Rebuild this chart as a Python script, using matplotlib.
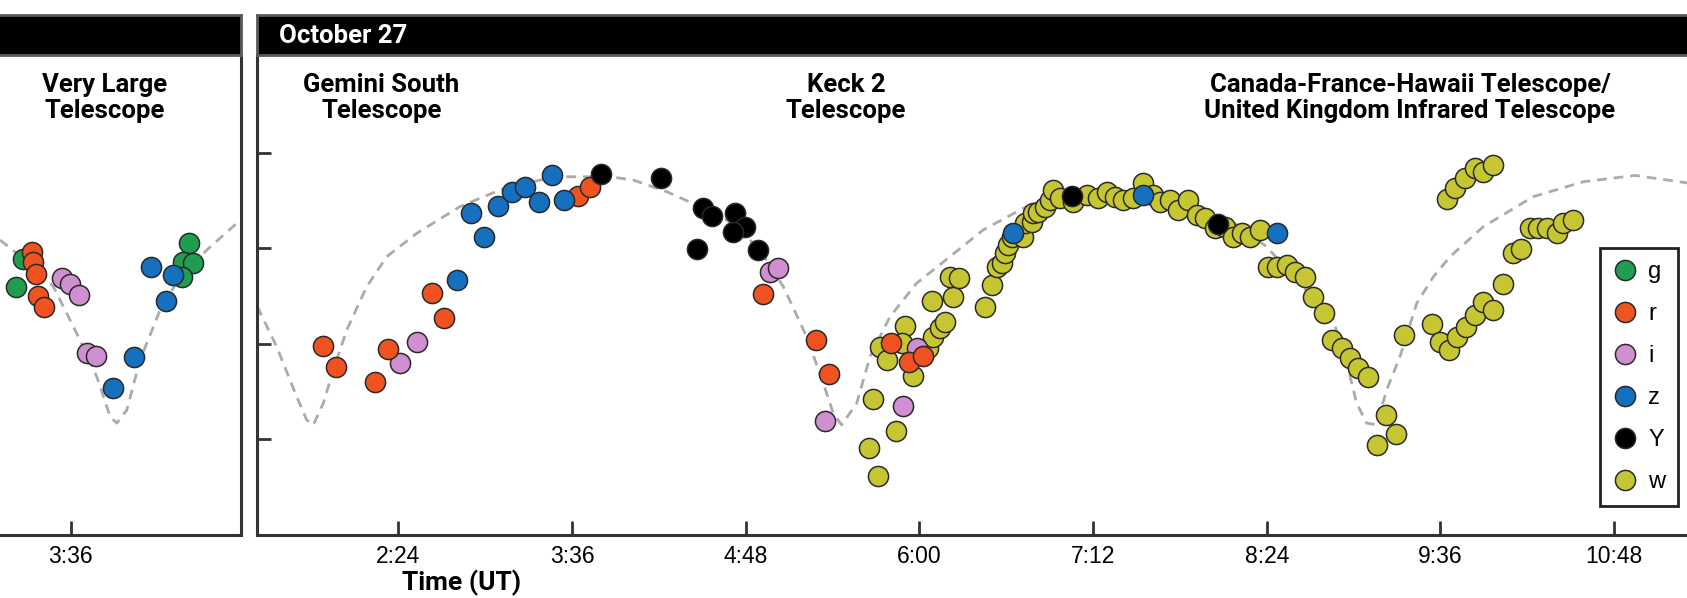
import matplotlib
matplotlib.use("Agg")
import matplotlib.pyplot as plt
from matplotlib.lines import Line2D
from matplotlib.ticker import MultipleLocator, FuncFormatter

plt.rcParams['font.family'] = ['Liberation Sans', 'DejaVu Sans']

# ---- data (time in decimal hours UT, relative magnitude) ----
# October 26, Very Large Telescope
g_t26 = [3.268, 3.222, 4.417, 4.374, 4.447, 4.367]
g_m26 = [-0.444, -0.299, -0.526, -0.430, -0.422, -0.351]
r_t26 = [3.331, 3.342, 3.360, 3.376, 3.418]
r_m26 = [-0.479, -0.430, -0.366, -0.251, -0.191]
i_t26 = [3.538, 3.595, 3.657, 3.715, 3.773]
i_m26 = [-0.343, -0.312, -0.256, 0.049, 0.062]
z_t26 = [4.153, 4.305, 4.256, 4.037, 3.894]
z_m26 = [-0.401, -0.360, -0.224, 0.067, 0.232]

model_t26 = [3.112, 3.342, 3.480, 3.641, 3.780, 3.872, 3.918, 3.987, 4.079,
             4.217, 4.355, 4.540, 4.747]
model_m26 = [-0.543, -0.404, -0.299, -0.055, 0.172, 0.381, 0.415, 0.346, 0.084,
             -0.177, -0.351, -0.491, -0.631]

# October 27
r_t27 = [1.882, 1.970, 2.239, 2.327, 2.631, 2.718, 3.644, 3.724, 4.922, 5.286,
         5.375, 5.804, 5.930, 6.023]
r_m27 = [0.011, 0.122, 0.198, 0.027, -0.265, -0.134, -0.775, -0.819, -0.259,
         -0.020, 0.159, -0.003, 0.096, 0.063]
i_t27 = [2.412, 2.531, 4.968, 5.021, 5.348, 5.889, 5.981]
i_m27 = [0.101, -0.008, -0.378, -0.399, 0.403, 0.323, 0.023]
z_t27 = [2.803, 2.900, 2.992, 3.087, 3.183, 3.275, 3.372, 3.464, 3.547,
         6.649, 7.547, 8.468]
z_m27 = [-0.334, -0.686, -0.561, -0.721, -0.796, -0.822, -0.744, -0.883,
         -0.753, -0.578, -0.779, -0.578]
Y_t27 = [3.800, 4.215, 4.507, 4.565, 4.726, 4.795, 4.714, 4.461, 4.887,
         7.052, 8.061]
Y_m27 = [-0.887, -0.866, -0.709, -0.669, -0.683, -0.613, -0.587, -0.495,
         -0.491, -0.775, -0.626]
w_t27 = [5.716, 5.652, 5.682, 5.838, 5.901, 5.728, 5.774, 5.958, 5.878, 6.061,
         6.096, 6.142, 6.177, 6.085, 6.234, 6.211, 6.276, 6.453, 6.500, 6.534,
         6.569, 6.591, 6.614, 6.638, 6.718, 6.730, 6.776, 6.787, 6.821, 6.868,
         6.902, 6.925, 6.971, 7.063, 7.156, 7.236, 7.294, 7.351, 7.409, 7.478,
         7.547, 7.616, 7.662, 7.731, 7.789, 7.858, 7.916, 7.973, 8.042, 8.111,
         8.169, 8.227, 8.284, 8.353, 8.410, 8.468, 8.537, 8.595, 8.664, 8.721,
         8.795, 8.853, 8.917, 8.975, 9.032, 9.101, 9.224, 9.291, 9.163, 9.348,
         9.539, 9.597, 9.661, 9.716, 9.776, 9.838, 9.896, 9.965, 10.034, 10.103,
         10.154, 10.218, 10.276, 10.334, 10.403, 10.448, 10.517,
         9.643, 9.700, 9.769, 9.838, 9.896, 9.965]
w_m27 = [0.689, 0.546, 0.288, 0.456, -0.094, 0.015, 0.084, 0.168, -0.003, 0.023,
         -0.038, -0.082, -0.116, -0.226, -0.247, -0.351, -0.343, -0.195, -0.308,
         -0.404, -0.422, -0.474, -0.517, -0.561, -0.561, -0.631, -0.639, -0.683,
         -0.691, -0.718, -0.753, -0.805, -0.762, -0.744, -0.779, -0.762, -0.796,
         -0.770, -0.753, -0.762, -0.840, -0.779, -0.744, -0.753, -0.700, -0.753,
         -0.674, -0.657, -0.605, -0.613, -0.561, -0.578, -0.561, -0.596, -0.404,
         -0.404, -0.413, -0.378, -0.351, -0.247, -0.163, -0.020, 0.023, 0.075,
         0.128, 0.172, 0.372, 0.471, 0.529, -0.047, -0.103, -0.012, 0.032,
         -0.038, -0.090, -0.151, -0.221, -0.177, -0.312, -0.477, -0.495, -0.605,
         -0.605, -0.605, -0.578, -0.631, -0.648,
         -0.756, -0.814, -0.866, -0.918, -0.901, -0.936]

model_t27 = [1.426, 1.560, 1.698, 1.767, 1.813, 1.882, 1.951, 2.044, 2.182, 2.320,
             2.527, 2.826, 3.103, 3.471, 3.863, 4.023, 4.254, 4.461, 4.712, 4.899,
             5.060, 5.221, 5.336, 5.405, 5.463, 5.567, 5.659, 5.797, 5.981, 6.211,
             6.441, 6.718, 6.902, 7.250, 7.600, 7.950, 8.200, 8.398, 8.859, 8.952,
             9.021, 9.090, 9.159, 9.228, 9.320, 9.436, 9.551, 9.666, 9.896, 10.241,
             10.587, 10.944, 11.303]
model_m27 = [-0.195, 0.015, 0.276, 0.398, 0.424, 0.311, 0.137, -0.073, -0.299, -0.456,
             -0.578, -0.718, -0.805, -0.874, -0.874, -0.857, -0.796, -0.726, -0.632, -0.491,
             -0.299, -0.038, 0.206, 0.363, 0.424, 0.311, 0.067, -0.142, -0.317, -0.456,
             -0.596, -0.709, -0.770, -0.800, -0.790, -0.710, -0.620, -0.508, -0.125, 0.101,
             0.311, 0.415, 0.424, 0.241, 0.067, -0.212, -0.351, -0.456, -0.613, -0.770,
             -0.848, -0.881, -0.842]

filters = ['g', 'r', 'i', 'z', 'Y', 'w']
colors = {'g': '#1f9e4f', 'r': '#f0531f', 'i': '#d08fd0',
          'z': '#1570c0', 'Y': '#000000', 'w': '#c6c633'}

# ---- layout (pixel geometry of the 1687x598 canvas) ----
W, H = 1687, 598
PX_PER_H = 144.75


def box(x0, x1, y0, y1):
    return [x0 / W, 1 - y1 / H, (x1 - x0) / W, (y1 - y0) / H]


fig = plt.figure(figsize=(W / 100, H / 100), dpi=100)

xl26 = (3.0, 4.776)
xl27 = (1.426, 11.8)
right26 = 241
left27 = 257.3
ax26 = fig.add_axes(box(right26 - (xl26[1] - xl26[0]) * PX_PER_H, right26, 55, 535))
ax27 = fig.add_axes(box(left27, left27 + (xl27[1] - xl27[0]) * PX_PER_H, 55, 535))


def hhmm(h, pos=None):
    m = int(round(h * 60))
    return f"{m // 60}:{m % 60:02d}"


ms = 14.5
for ax, xl in ((ax26, xl26), (ax27, xl27)):
    ax.set_xlim(*xl)
    ax.set_ylim(1.0, -1.511)
    ax.xaxis.set_major_locator(MultipleLocator(1.2))
    ax.xaxis.set_major_formatter(FuncFormatter(hhmm))
    ax.set_yticks([-1.0, -0.5, 0.0, 0.5])
    ax.set_yticklabels([])
    ax.tick_params(direction='in', length=10, width=2, color='#333333',
                   labelsize=16.5, pad=7)
    ax.spines['top'].set_visible(False)
    for s in ax.spines.values():
        s.set_linewidth(2.2)
        s.set_color('#333333')

ax26.tick_params(axis='y', left=False)
ax27.spines['right'].set_visible(False)

ax26.plot(model_t26, model_m26, color='#ababab', lw=2, dashes=(3.5, 2.5), zorder=1)
ax27.plot(model_t27, model_m27, color='#ababab', lw=2, dashes=(3.5, 2.5), zorder=1)

kw = dict(marker='o', ls='none', ms=ms, mec='#2a2a2a', mew=1.1)
ax26.plot(g_t26, g_m26, mfc=colors['g'], zorder=2, **kw)
ax26.plot(i_t26, i_m26, mfc=colors['i'], zorder=3, **kw)
ax26.plot(r_t26, r_m26, mfc=colors['r'], zorder=4, **kw)
ax26.plot(z_t26, z_m26, mfc=colors['z'], zorder=5, **kw)

ax27.plot(w_t27, w_m27, mfc=colors['w'], zorder=2, **kw)
ax27.plot(i_t27, i_m27, mfc=colors['i'], zorder=3, **kw)
ax27.plot(r_t27, r_m27, mfc=colors['r'], zorder=4, **kw)
ax27.plot(z_t27, z_m27, mfc=colors['z'], zorder=5, **kw)
ax27.plot(Y_t27, Y_m27, mfc=colors['Y'], zorder=6, **kw)

# header bars
for x0, x1 in ((-20, right26), (left27, W + 20)):
    hb = fig.add_axes(box(x0, x1, 15, 55))
    hb.set_facecolor('black')
    hb.set_xticks([])
    hb.set_yticks([])
    for s in hb.spines.values():
        s.set_color('#5a5a5a')
        s.set_linewidth(2)
fig.text(279 / W, 1 - 36 / H, 'October 27', color='white', fontsize=18.5,
         fontweight='bold', family=['Roboto', 'DejaVu Sans'], ha='left', va='center')

# telescope labels
lab = dict(fontsize=18.5, fontweight='bold', family=['Roboto', 'DejaVu Sans'],
           ha='center', va='center', linespacing=1.1)
fig.text(104.7 / W, 1 - 98 / H, 'Very Large\nTelescope', **lab)
fig.text(381.4 / W, 1 - 98 / H, 'Gemini South\nTelescope', **lab)
fig.text(846 / W, 1 - 98 / H, 'Keck 2\nTelescope', **lab)
fig.text(1410 / W, 1 - 98 / H,
         'Canada-France-Hawaii Telescope/\nUnited Kingdom Infrared Telescope', **lab)

fig.text(462 / W, 1 - 583 / H, 'Time (UT)', fontsize=19, fontweight='bold',
         family=['Roboto', 'DejaVu Sans'], ha='center', va='center')

# legend
handles = [Line2D([], [], marker='o', ls='none', ms=ms, mfc=colors[f],
                  mec='#2a2a2a', mew=1.1) for f in filters]
leg = ax27.legend(handles, filters, loc='upper left',
                  bbox_to_anchor=(1600 / W, 1 - 248 / H),
                  bbox_transform=fig.transFigure, borderaxespad=0,
                  fancybox=False, framealpha=1, edgecolor='#222222',
                  fontsize=17, handlelength=1.0, handletextpad=0.5,
                  labelspacing=0.85, borderpad=0.55)
leg.get_frame().set_linewidth(2)

fig.savefig('out.png', dpi=100)
